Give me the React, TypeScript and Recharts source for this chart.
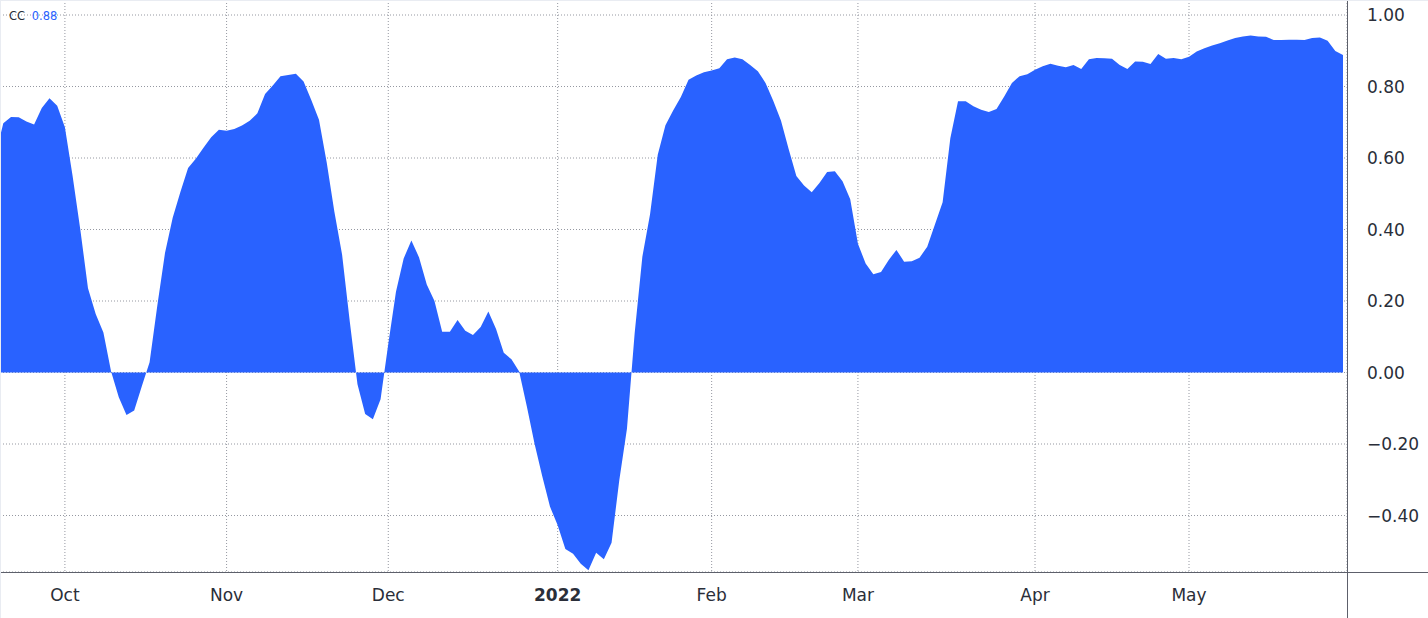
import { Area, AreaChart, CartesianGrid, XAxis, YAxis } from 'recharts'

// CC (correlation coefficient), one value per trading day, Sep 20 2021 .. May 31 2022
const ccValues = [
  0.61, 0.697, 0.715, 0.714, 0.702, 0.694, 0.74, 0.767, 0.746, 0.686,
  0.55, 0.4, 0.236, 0.164, 0.112, 0.003, -0.069, -0.119, -0.106, -0.038,
  0.029, 0.187, 0.334, 0.433, 0.505, 0.572, 0.598, 0.629, 0.658, 0.679,
  0.676, 0.681, 0.691, 0.704, 0.725, 0.779, 0.803, 0.829, 0.832, 0.836,
  0.814, 0.762, 0.707, 0.588, 0.45, 0.33, 0.143, -0.033, -0.116, -0.131,
  -0.075, 0.08, 0.226, 0.319, 0.369, 0.322, 0.246, 0.2, 0.114, 0.114,
  0.147, 0.117, 0.105, 0.127, 0.171, 0.122, 0.055, 0.037, 0.003, -0.095,
  -0.199, -0.29, -0.375, -0.427, -0.494, -0.507, -0.535, -0.553, -0.504, -0.522,
  -0.476, -0.302, -0.157, 0.11, 0.324, 0.443, 0.609, 0.692, 0.733, 0.771,
  0.819, 0.831, 0.84, 0.845, 0.851, 0.876, 0.881, 0.876, 0.86, 0.843,
  0.81, 0.76, 0.705, 0.625, 0.55, 0.523, 0.504, 0.53, 0.561, 0.563,
  0.535, 0.485, 0.36, 0.305, 0.275, 0.281, 0.315, 0.343, 0.31, 0.311,
  0.321, 0.352, 0.414, 0.476, 0.655, 0.759, 0.759, 0.745, 0.735, 0.729,
  0.737, 0.772, 0.81, 0.829, 0.834, 0.847, 0.857, 0.864, 0.858, 0.854,
  0.86, 0.849, 0.876, 0.88, 0.879, 0.878, 0.86, 0.849, 0.87, 0.869,
  0.863, 0.891, 0.878, 0.88, 0.876, 0.883, 0.898, 0.907, 0.915, 0.921,
  0.929, 0.936, 0.94, 0.943, 0.94, 0.939, 0.93, 0.93, 0.931, 0.931,
  0.93, 0.936, 0.937, 0.928, 0.899, 0.888,
]

// first trading day of each month, as an index into ccValues
const monthTickIndex = [9, 30, 51, 73, 93, 112, 135, 155]
const monthTickLabels = ['Oct', 'Nov', 'Dec', '2022', 'Feb', 'Mar', 'Apr', 'May']

const yTicks = [-0.4, -0.2, 0, 0.2, 0.4, 0.6, 0.8, 1.0]

const data = ccValues.map((cc, i) => ({ i, cc }))

const FONT = "'DejaVu Sans', sans-serif"
const TEXT = '#2a2e39'
const BLUE = '#2962ff'

function MonthTick(props: any) {
  const { x, y, payload } = props
  const k = monthTickIndex.indexOf(payload.value)
  const label = monthTickLabels[k]
  return (
    <text
      x={x}
      y={y + 29}
      textAnchor="middle"
      fill={TEXT}
      fontSize={17}
      fontFamily={FONT}
      fontWeight={label === '2022' ? 700 : 400}
    >
      {label}
    </text>
  )
}

export default function App() {
  return (
    <div
      style={{
        position: 'absolute',
        left: 0,
        top: 0,
        width: 1428,
        height: 618,
        background: '#fff',
        fontFamily: FONT,
        overflow: 'hidden',
      }}
    >
      <AreaChart width={1428} height={618} data={data} margin={{ top: 0, right: 0, left: 0, bottom: 0 }}>
        <CartesianGrid stroke="#9598a1" strokeDasharray="1 2" />
        <XAxis
          dataKey="i"
          type="number"
          domain={[0.571, 175.52]}
          allowDataOverflow
          ticks={monthTickIndex}
          interval={0}
          height={46}
          axisLine={false}
          tickLine={false}
          tickSize={0}
          tickMargin={0}
          tick={<MonthTick />}
        />
        <YAxis
          orientation="right"
          type="number"
          domain={[-0.558, 1.042]}
          allowDataOverflow
          ticks={yTicks}
          interval={0}
          width={81}
          axisLine={false}
          tickLine={false}
          tickSize={0}
          tickMargin={20}
          tickFormatter={(v: number) => v.toFixed(2).replace('-', '\u2212')}
          tick={{ fill: TEXT, fontSize: 17, fontFamily: FONT }}
        />
        <Area
          type="linear"
          dataKey="cc"
          baseValue={0}
          stroke="none"
          fill={BLUE}
          fillOpacity={1}
          dot={false}
          activeDot={false}
          isAnimationActive={false}
        />
      </AreaChart>
      {/* axis frame */}
      <div style={{ position: 'absolute', left: 0, top: 572, width: 1428, height: 1, background: '#5d606b' }} />
      <div style={{ position: 'absolute', left: 1347, top: 0, width: 1, height: 618, background: '#5d606b' }} />
      <div style={{ position: 'absolute', left: 0, top: 0, width: 1428, height: 1, background: '#e9ecf2' }} />
      <div style={{ position: 'absolute', left: 0, top: 0, width: 1, height: 618, background: '#e9ecf2' }} />
      {/* legend */}
      <div
        style={{
          position: 'absolute',
          left: 9,
          top: 10,
          fontSize: 11.5,
          lineHeight: '12px',
          fontFamily: FONT,
          color: TEXT,
          whiteSpace: 'nowrap',
        }}
      >
        CC <span style={{ color: BLUE, marginLeft: 3 }}>0.88</span>
      </div>
    </div>
  )
}
